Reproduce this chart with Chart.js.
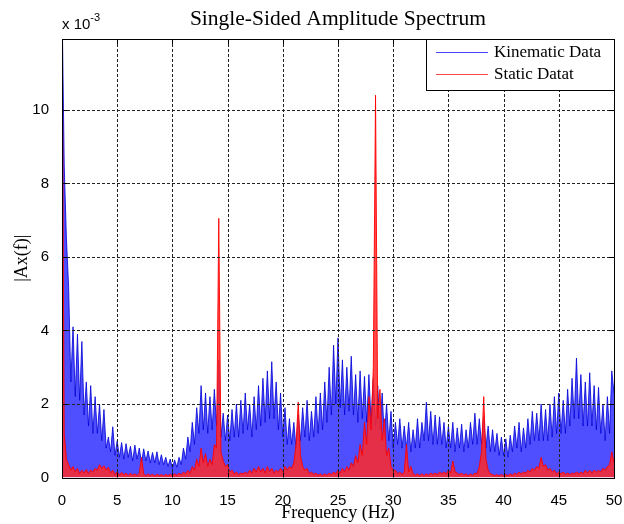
<!DOCTYPE html>
<html>
<head>
<meta charset="utf-8">
<script src="https://cdn.jsdelivr.net/npm/chart.js@4.4.1/dist/chart.umd.min.js"></script>
<style>
  html, body { margin: 0; padding: 0; background: #fff; }
</style>
</head>
<body>
<canvas id="spectrum" width="624" height="524"></canvas>
<script>
// frequency bins are 0.2 Hz apart, 0..50 Hz (values in units of 1e-3)
const binWidth = 0.2;

const kinematic = [
  13, 8.5, 6.5, 5.2, 2.6, 4.1, 2.2, 3.9, 2.1, 3.7,
  1.7, 2.6, 1.4, 2.5, 1.2, 2.2, 1.2, 2.0, 1.0, 1.85,
  0.8, 1.1, 0.7, 1.38, 0.6, 1.0, 0.55, 0.95, 0.5, 0.92,
  0.55, 0.85, 0.45, 0.88, 0.5, 0.8, 0.4, 0.78, 0.45, 0.72,
  0.4, 0.68, 0.4, 0.7, 0.35, 0.62, 0.35, 0.55, 0.3, 0.5,
  0.25, 0.48, 0.28, 0.55, 0.35, 0.8, 0.5, 1.1, 0.7, 1.5,
  0.9, 1.9, 1.2, 2.5, 1.3, 2.3, 1.2, 2.2, 1.3, 2.4,
  1.4, 3.2, 1.1, 1.75, 1.0, 1.7, 1.0, 1.85, 1.1, 2.0,
  1.1, 2.1, 1.2, 2.3, 1.3, 2.0, 1.1, 2.2, 1.3, 2.5,
  1.4, 2.7, 1.5, 2.9, 1.6, 3.15, 1.6, 2.6, 1.3, 2.3,
  1.1, 1.9, 0.9, 1.6, 0.9, 1.5, 0.8, 1.7, 1.0, 1.9,
  1.1, 2.1, 1.0, 1.8, 1.1, 2.2, 1.2, 2.3, 1.3, 2.6,
  1.5, 3.0, 1.7, 3.6, 2.0, 3.8, 1.9, 3.2, 1.7, 3.0,
  1.8, 3.3, 1.7, 2.8, 1.5, 2.9, 1.6, 2.75, 1.5, 2.8,
  1.5, 2.7, 1.4, 2.5, 1.3, 2.3, 1.1, 2.0, 1.0, 1.8,
  0.8, 1.5, 0.9, 1.6, 0.8, 1.4, 0.8, 1.5, 0.7, 1.3,
  0.8, 1.6, 0.8, 1.5, 1.0, 2.05, 1.0, 1.8, 0.9, 1.7,
  0.9, 1.65, 0.9, 1.5, 0.8, 1.4, 0.8, 1.5, 0.7, 1.35,
  0.8, 1.45, 0.7, 1.3, 0.8, 1.5, 0.9, 1.75, 0.9, 1.6,
  0.9, 1.65, 0.8, 1.4, 0.7, 1.3, 0.7, 1.2, 0.6, 1.1,
  0.6, 1.05, 0.55, 1.15, 0.7, 1.4, 0.8, 1.5, 0.7, 1.35,
  0.8, 1.6, 0.9, 1.8, 1.0, 1.75, 1.0, 2.0, 1.0, 1.85,
  1.0, 2.0, 1.1, 2.2, 1.2, 2.3, 1.2, 2.1, 1.2, 2.4,
  1.4, 2.7, 1.6, 3.25, 1.6, 2.8, 1.4, 2.6, 1.4, 2.85,
  1.4, 2.5, 1.3, 2.45, 1.2, 2.0, 1.0, 2.2, 1.2, 2.9,
  2.3
];

const staticData = [
  13, 1.2, 0.5, 0.35, 0.2, 0.3, 0.15, 0.25, 0.1, 0.2,
  0.12, 0.22, 0.1, 0.2, 0.15, 0.25, 0.2, 0.35, 0.25, 0.32,
  0.2, 0.28, 0.12, 0.2, 0.08, 0.15, 0.06, 0.14, 0.07, 0.12,
  0.05, 0.12, 0.06, 0.1, 0.05, 0.12, 0.55, 0.1, 0.05, 0.1,
  0.05, 0.09, 0.04, 0.09, 0.05, 0.08, 0.04, 0.08, 0.05, 0.09,
  0.05, 0.1, 0.06, 0.12, 0.07, 0.15, 0.1, 0.2, 0.12, 0.3,
  0.2, 0.5, 0.3, 0.8, 0.4, 0.65, 0.3, 0.5, 0.35, 0.9,
  0.8, 7.05, 0.7, 0.45, 0.3, 0.35, 0.15, 0.2, 0.1, 0.15,
  0.08, 0.12, 0.1, 0.15, 0.1, 0.2, 0.12, 0.25, 0.15, 0.3,
  0.15, 0.25, 0.12, 0.3, 0.15, 0.25, 0.12, 0.2, 0.15, 0.25,
  0.15, 0.3, 0.2, 0.3, 0.25, 0.4, 0.9, 2.05, 0.6, 0.3,
  0.2, 0.25, 0.1, 0.15, 0.08, 0.12, 0.06, 0.1, 0.05, 0.1,
  0.06, 0.12, 0.08, 0.15, 0.1, 0.2, 0.12, 0.25, 0.15, 0.3,
  0.2, 0.4, 0.3, 0.6, 0.4, 0.9, 0.6, 1.5, 0.9, 2.2,
  1.3, 3.0, 10.4, 1.6, 2.4, 1.0, 1.6, 0.6, 0.8, 0.3,
  0.2, 0.2, 0.1, 0.15, 0.08, 0.15, 0.9, 0.15, 0.3, 0.1,
  0.06, 0.1, 0.05, 0.1, 0.05, 0.1, 0.06, 0.12, 0.08, 0.12,
  0.08, 0.15, 0.1, 0.15, 0.1, 0.2, 0.12, 0.45, 0.15, 0.12,
  0.08, 0.12, 0.06, 0.1, 0.05, 0.1, 0.06, 0.12, 0.1, 0.3,
  0.7, 2.2, 0.5, 0.2, 0.1, 0.08, 0.05, 0.08, 0.04, 0.08,
  0.05, 0.08, 0.05, 0.1, 0.06, 0.12, 0.08, 0.15, 0.1, 0.15,
  0.12, 0.2, 0.15, 0.25, 0.2, 0.3, 0.25, 0.55, 0.3, 0.35,
  0.2, 0.25, 0.15, 0.2, 0.1, 0.15, 0.1, 0.15, 0.08, 0.12,
  0.08, 0.12, 0.1, 0.15, 0.1, 0.15, 0.1, 0.2, 0.12, 0.2,
  0.12, 0.2, 0.15, 0.2, 0.15, 0.25, 0.2, 0.3, 0.35, 0.7,
  0.4
];

const seriesNames = ['Kinematic Data', 'Static Datat'];
const xTicks = [0, 5, 10, 15, 20, 25, 30, 35, 40, 45, 50];
const yTicks = [0, 2, 4, 6, 8, 10];
const chartTitle = 'Single-Sided Amplitude Spectrum';

const serif = "'Liberation Serif', 'Times New Roman', serif";
const sans = "'Liberation Sans', Arial, sans-serif";

function toPoints(values) {
  return values.map((v, i) => ({ x: i * binWidth, y: v }));
}

// matlab style: dotted grid on top, box, inward ticks, legend, title, exponent
const matlabAxes = {
  id: 'matlabAxes',
  afterDatasetsDraw(chart) {
    const { ctx, chartArea: a, scales } = chart;
    const xs = scales.x, ys = scales.y;
    ctx.save();

    // grid
    ctx.strokeStyle = '#222';
    ctx.lineWidth = 1;
    ctx.setLineDash([3, 2]);
    xTicks.forEach(t => {
      const px = Math.round(xs.getPixelForValue(t)) + 0.5;
      ctx.beginPath(); ctx.moveTo(px, a.top); ctx.lineTo(px, a.bottom); ctx.stroke();
    });
    yTicks.forEach(t => {
      const py = Math.round(ys.getPixelForValue(t)) + 0.5;
      ctx.beginPath(); ctx.moveTo(a.left, py); ctx.lineTo(a.right, py); ctx.stroke();
    });
    ctx.setLineDash([]);

    // inward ticks
    ctx.strokeStyle = '#000';
    xTicks.forEach(t => {
      const px = Math.round(xs.getPixelForValue(t)) + 0.5;
      ctx.beginPath();
      ctx.moveTo(px, a.bottom); ctx.lineTo(px, a.bottom - 5);
      ctx.moveTo(px, a.top); ctx.lineTo(px, a.top + 5);
      ctx.stroke();
    });
    yTicks.forEach(t => {
      const py = Math.round(ys.getPixelForValue(t)) + 0.5;
      ctx.beginPath();
      ctx.moveTo(a.left, py); ctx.lineTo(a.left + 5, py);
      ctx.moveTo(a.right, py); ctx.lineTo(a.right - 5, py);
      ctx.stroke();
    });

    // box
    ctx.strokeRect(Math.round(a.left) + 0.5, Math.round(a.top) + 0.5,
      Math.round(a.right - a.left), Math.round(a.bottom - a.top));

    // legend
    const lx = 426.5, ly = Math.round(a.top) + 0.5, lw = Math.round(a.right) - 426, lh = 51;
    ctx.fillStyle = '#fff';
    ctx.fillRect(lx, ly, lw, lh);
    ctx.strokeRect(lx, ly, lw, lh);
    ctx.font = '17px ' + serif;
    ctx.textBaseline = 'middle';
    chart.data.datasets.forEach((ds, i) => {
      const y = ly + 13 + i * 22;
      ctx.strokeStyle = ds.legendColor;
      ctx.lineWidth = 1;
      ctx.beginPath(); ctx.moveTo(436, y); ctx.lineTo(488, y); ctx.stroke();
      ctx.fillStyle = '#000';
      ctx.fillText(ds.label, 494, y);
    });

    // title, centred over the axes
    ctx.fillStyle = '#000';
    ctx.font = '21.5px ' + serif;
    ctx.textAlign = 'center';
    ctx.fillText(chartTitle, (a.left + a.right) / 2, 19);

    // exponent
    ctx.textAlign = 'left';
    ctx.textBaseline = 'alphabetic';
    ctx.font = '15px ' + sans;
    ctx.fillText('x 10', a.left, 29);
    const w = ctx.measureText('x 10').width;
    ctx.font = '11px ' + sans;
    ctx.fillText('-3', a.left + w, 21);
    ctx.restore();
  }
};

new Chart(document.getElementById('spectrum'), {
  type: 'line',
  data: {
    datasets: [
      {
        label: seriesNames[0],
        data: toPoints(kinematic),
        borderColor: 'rgba(0, 0, 215, 0.8)',
        backgroundColor: 'rgba(70, 70, 255, 0.95)',
        fill: 'origin',
        legendColor: 'rgb(70, 70, 255)',
        borderWidth: 1,
        pointRadius: 0,
        tension: 0,
        order: 2
      },
      {
        label: seriesNames[1],
        data: toPoints(staticData),
        borderColor: 'rgba(255, 0, 0, 0.9)',
        backgroundColor: 'rgba(255, 40, 40, 0.85)',
        fill: 'origin',
        legendColor: 'rgb(255, 70, 70)',
        borderWidth: 1,
        pointRadius: 0,
        tension: 0,
        order: 1
      }
    ]
  },
  options: {
    responsive: false,
    animation: false,
    events: [],
    layout: { padding: { left: 0, right: 10, top: 39, bottom: 0 } },
    scales: {
      x: {
        type: 'linear',
        min: 0,
        max: 50,
        afterBuildTicks: s => { s.ticks = xTicks.map(v => ({ value: v })); },
        afterFit: s => { s.height = 46.5; s.paddingLeft = 0; s.paddingRight = 0; },
        grid: { display: false },
        border: { display: false },
        ticks: { color: '#000', font: { family: sans, size: 15 }, padding: 6, maxRotation: 0 },
        title: {
          display: true,
          text: 'Frequency (Hz)',
          color: '#000',
          font: { family: serif, size: 18 },
          padding: { top: 0, bottom: 0 }
        }
      },
      y: {
        type: 'linear',
        min: 0,
        max: 11.93,
        afterBuildTicks: s => { s.ticks = yTicks.map(v => ({ value: v })); },
        afterFit: s => { s.width = 62; s.paddingTop = 0; s.paddingBottom = 0; },
        grid: { display: false },
        border: { display: false },
        ticks: { color: '#000', font: { family: sans, size: 15 }, padding: 5 },
        title: {
          display: true,
          text: '|Ax(f)|',
          color: '#000',
          font: { family: serif, size: 18 },
          padding: { top: 11, bottom: 0 }
        }
      }
    },
    plugins: {
      legend: { display: false },
      tooltip: { enabled: false },
      title: { display: false }
    }
  },
  plugins: [matlabAxes]
});
</script>
</body>
</html>
